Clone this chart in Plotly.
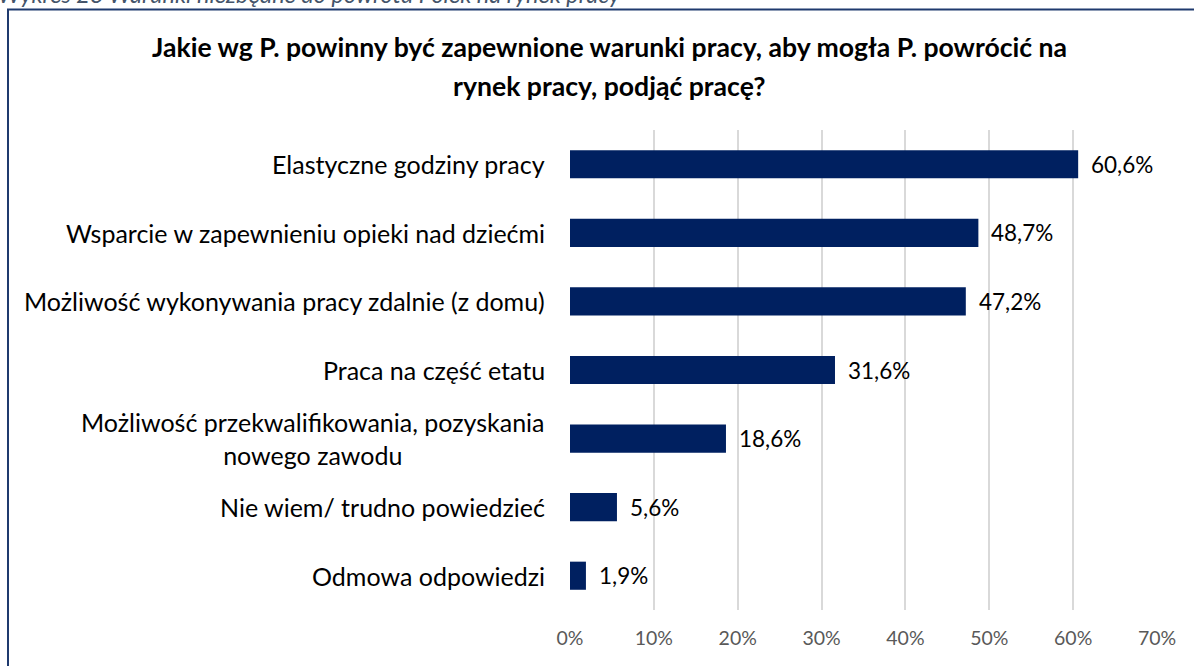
import plotly.graph_objects as go

categories = [
    "Elastyczne godziny pracy",
    "Wsparcie w zapewnieniu opieki nad dziećmi",
    "Możliwość wykonywania pracy zdalnie (z domu)",
    "Praca na część etatu",
    "Możliwość przekwalifikowania, pozyskania<br>nowego zawodu",
    "Nie wiem/ trudno powiedzieć",
    "Odmowa odpowiedzi",
]
values = [60.6, 48.7, 47.2, 31.6, 18.6, 5.6, 1.9]
value_labels = ["60,6%", "48,7%", "47,2%", "31,6%", "18,6%", "5,6%", "1,9%"]
tick_vals = [0, 10, 20, 30, 40, 50, 60, 70]
tick_text = ["0%", "10%", "20%", "30%", "40%", "50%", "60%", "70%"]

title_lines = [
    "Jakie wg P. powinny być zapewnione warunki pracy, aby mogła P. powrócić na",
    "rynek pracy, podjąć pracę?",
]
caption_text = "Wykres 23 Warunki niezbędne do powrotu Polek na rynek pracy"

FONT = "Lato"
W, H = 1194, 666
ML, MR, MT, MB = 570, 37, 130, 56
PW, PH = W - ML - MR, H - MT - MB

def px_x(px):
    return (px - ML) / PW

def px_y(py):
    return (H - MB - py) / PH

fig = go.Figure()
fig.add_trace(go.Bar(
    x=values,
    y=categories,
    orientation="h",
    marker=dict(color="#002060", line=dict(width=0)),
    width=0.41,
    hoverinfo="skip",
))

annotations = []
for c, v, lab in zip(categories, values, value_labels):
    annotations.append(dict(
        x=v, y=c, xref="x", yref="y", text=lab, showarrow=False,
        xanchor="left", yanchor="middle", xshift=11,
        font=dict(family=FONT, size=22.5, color="#000000"),
    ))
    annotations.append(dict(
        x=0, y=c, xref="paper", yref="y", text=c, showarrow=False,
        xanchor="right", yanchor="middle", xshift=-23, align="center",
        font=dict(family=FONT, size=25, color="#000000"),
    ))

for line, ypx in zip(title_lines, [47, 86]):
    annotations.append(dict(
        x=px_x(609), y=px_y(ypx), xref="paper", yref="paper", text="<b>" + line + "</b>",
        showarrow=False, xanchor="center", yanchor="middle", align="center",
        font=dict(family=FONT, size=26.6, color="#000000"),
    ))
annotations.append(dict(
    x=px_x(-4), y=px_y(10), xref="paper", yref="paper", text="<i>" + caption_text + "</i>",
    showarrow=False, xanchor="left", yanchor="bottom", align="left",
    font=dict(family=FONT, size=23.5, color="#44546A"),
))

fig.update_layout(
    width=W, height=H,
    margin=dict(l=ML, r=MR, t=MT, b=MB),
    paper_bgcolor="#FFFFFF",
    plot_bgcolor="#FFFFFF",
    showlegend=False,
    annotations=annotations,
    shapes=[dict(
        type="rect", xref="paper", yref="paper",
        x0=px_x(8), x1=px_x(1210), y0=px_y(690), y1=px_y(9.5),
        line=dict(color="#1F3A6E", width=2), fillcolor="rgba(0,0,0,0)", layer="below",
    )],
    xaxis=dict(
        range=[0, 70], tickvals=tick_vals, ticktext=tick_text,
        showgrid=True, gridcolor="#D9D9D9", gridwidth=1.5,
        zeroline=False, showline=False, ticks="",
        tickfont=dict(family=FONT, size=19.5, color="#595959"),
        ticklabelstandoff=14,
        fixedrange=True,
    ),
    yaxis=dict(
        autorange="reversed", showticklabels=False, showgrid=False,
        zeroline=False, showline=False, ticks="", fixedrange=True,
    ),
)

fig.write_html(
    "out.html",
    config={"displayModeBar": False},
    post_script="document.body.style.margin='0';document.body.style.overflow='hidden';",
)
